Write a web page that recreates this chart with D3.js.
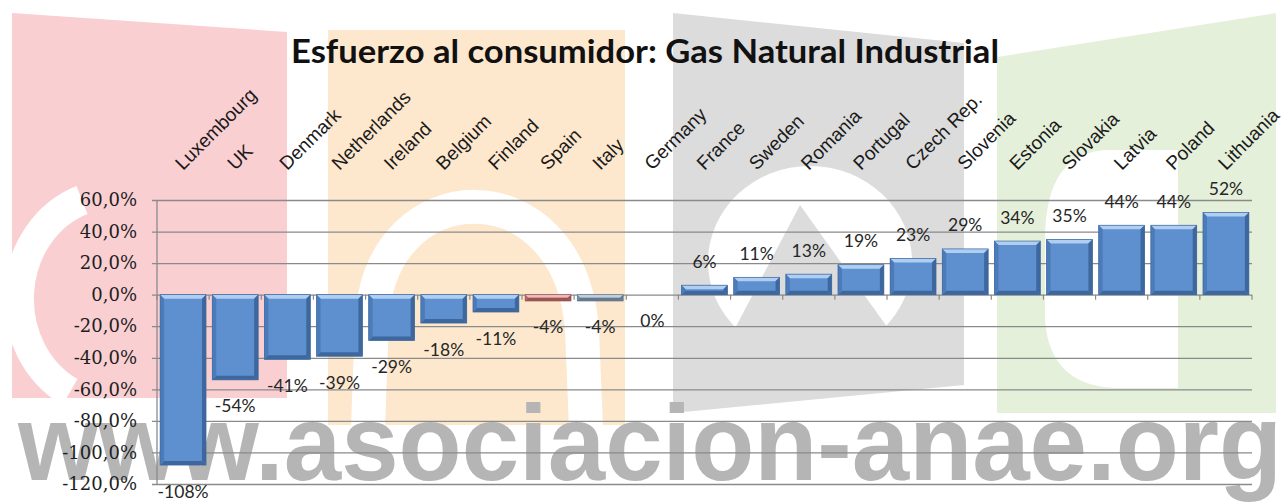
<!DOCTYPE html>
<html>
<head>
<meta charset="utf-8">
<script src="https://cdn.jsdelivr.net/npm/d3@7"></script>
<style>
  body { margin: 0; background: #fff; }
  svg { display: block; }
</style>
</head>
<body>
<div id="chart"></div>
<script>
// Data
var countries = ["Luxembourg", "UK", "Denmark", "Netherlands", "Ireland", "Belgium", "Finland",
                 "Spain", "Italy", "Germany", "France", "Sweden", "Romania", "Portugal",
                 "Czech Rep.", "Slovenia", "Estonia", "Slovakia", "Latvia", "Poland", "Lithuania"];
var values = [-108, -54, -41, -39, -29, -18, -11, -4, -4, 0, 6, 11, 13, 19, 23, 29, 34, 35, 44, 44, 52];
var yTicks = [60, 40, 20, 0, -20, -40, -60, -80, -100, -120];
var title = "Esfuerzo al consumidor: Gas Natural Industrial";
var watermark = "www.asociacion-anae.org";

// Layout
var width = 1288, height = 504;
var plot = { left: 157, right: 1252, top: 200, bottom: 484 };

var svg = d3.select("#chart").append("svg")
    .attr("width", width)
    .attr("height", height);

svg.append("rect").attr("width", width).attr("height", height).attr("fill", "#fff");

// background logo (watermark)
var bg = svg.append("g");
bg.append("path").attr("d", "M12,13 L287,32 L287,398 L12,398 Z").attr("fill", "#f9cfd2");
bg.append("path").attr("d", "M82,200 A95,105 0 0 0 70,392")
    .attr("fill", "none").attr("stroke", "#fff").attr("stroke-width", 30);
bg.append("path").attr("d", "M328,30 L625,30 L625,425 L328,425 Z").attr("fill", "#fde8ce");
bg.append("path").attr("d", "M368,428 L372,320 C380,170 570,165 582,330 L586,428")
    .attr("fill", "none").attr("stroke", "#fff").attr("stroke-width", 34);
bg.append("path").attr("d", "M673,13 L964,43 L964,385 L673,413 Z").attr("fill", "#dcdcdc");
bg.append("ellipse").attr("cx", 810).attr("cy", 262).attr("rx", 102).attr("ry", 96).attr("fill", "#fff");
bg.append("path").attr("d", "M800,205 L712,372 L905,352 Z").attr("fill", "#dcdcdc");
bg.append("path").attr("d", "M997,57 L1276,13 L1276,413 L997,413 Z").attr("fill", "#e5f0da");
bg.append("path").attr("d", "M1178,150 L1110,150 Q1045,150 1045,240 L1045,320 Q1050,388 1120,388 L1178,388 Z")
    .attr("fill", "#fff");

bg.append("text")
    .attr("x", 18).attr("y", 480)
    .attr("textLength", 1264)
    .attr("lengthAdjust", "spacingAndGlyphs")
    .style("font-family", "'Liberation Sans', Arial, sans-serif")
    .style("font-weight", "bold")
    .style("font-size", "108px")
    .attr("fill", "#b5b5b5")
    .text(watermark);

// Scales
var x = d3.scaleBand()
    .domain(countries)
    .range([plot.left, plot.right])
    .paddingInner(0.12)
    .paddingOuter(0.06);

var y = d3.scaleLinear()
    .domain([-120, 60])
    .range([plot.bottom, plot.top]);

var locale = d3.formatLocale({ decimal: ",", thousands: ".", grouping: [3], currency: ["", "€"], minus: "-" });
var fmt = locale.format(".1f");

// gridlines + y tick labels
var yAxis = d3.axisLeft(y)
    .tickValues(yTicks)
    .tickSize(-(plot.right - plot.left + 5))
    .tickPadding(15)
    .tickFormat(function(d) { return fmt(d) + "%"; });

var gy = svg.append("g")
    .attr("transform", "translate(" + (plot.left - 5) + ",0)")
    .call(yAxis);
gy.select(".domain").remove();
gy.selectAll(".tick line").attr("stroke", "#8a8a8a").attr("stroke-width", 1.3);
gy.selectAll(".tick text")
    .style("font-family", "'DejaVu Serif', serif")
    .style("font-size", "18px")
    .attr("fill", "#1e1e1e");

// vertical axis line
svg.append("line")
    .attr("x1", plot.left).attr("x2", plot.left)
    .attr("y1", y(60)).attr("y2", y(-120))
    .attr("stroke", "#8a8a8a").attr("stroke-width", 1.3);

// category tick marks on the zero line
var half = x.step() * x.paddingInner() / 2;
var bounds = countries.map(function(c) { return x(c) - half; });
bounds.push(x(countries[countries.length - 1]) + x.bandwidth() + half);
svg.append("g").selectAll("line")
    .data(bounds)
    .enter().append("line")
    .attr("x1", function(d) { return d; }).attr("x2", function(d) { return d; })
    .attr("y1", y(0)).attr("y2", y(0) + 5)
    .attr("stroke", "#8a8a8a").attr("stroke-width", 1.2);

// bars with bevel
var palette = {
    normal: { body: "#5e8fcf", light: "#b0cef2", dark: "#3d679d", side: "#4c7bba" },
    Spain:  { body: "#cc8583", light: "#ecbcba", dark: "#9a5452", side: "#b06a68" },
    Italy:  { body: "#8fa2b7", light: "#c3cfdc", dark: "#66788c", side: "#7a8da2" }
};

var data = countries.map(function(c, i) { return { name: c, value: values[i] }; });

var bars = svg.append("g").selectAll("g")
    .data(data)
    .enter().append("g");

bars.each(function(d) {
    var g = d3.select(this);
    var col = palette[d.name] || palette.normal;
    var x0 = x(d.name), x1 = x0 + x.bandwidth();
    var y0 = y(Math.max(0, d.value)), y1 = y(Math.min(0, d.value));
    if (y1 - y0 < 0.5) return;
    var b = Math.min(4, (y1 - y0) / 2);
    g.append("rect")
        .attr("x", x0).attr("y", y0)
        .attr("width", x1 - x0).attr("height", y1 - y0)
        .attr("fill", col.body);
    g.append("path").attr("fill", col.light)
        .attr("d", "M" + x0 + "," + y0 + "L" + x1 + "," + y0 + "L" + (x1 - b) + "," + (y0 + b) + "L" + (x0 + b) + "," + (y0 + b) + "Z");
    g.append("path").attr("fill", col.dark)
        .attr("d", "M" + x0 + "," + y1 + "L" + x1 + "," + y1 + "L" + (x1 - b) + "," + (y1 - b) + "L" + (x0 + b) + "," + (y1 - b) + "Z");
    g.append("path").attr("fill", col.side)
        .attr("d", "M" + x0 + "," + y0 + "L" + (x0 + b) + "," + (y0 + b) + "L" + (x0 + b) + "," + (y1 - b) + "L" + x0 + "," + y1 + "Z");
    g.append("path").attr("fill", col.dark)
        .attr("d", "M" + x1 + "," + y0 + "L" + (x1 - b) + "," + (y0 + b) + "L" + (x1 - b) + "," + (y1 - b) + "L" + x1 + "," + y1 + "Z");
    g.append("rect")
        .attr("x", x0).attr("y", y0)
        .attr("width", x1 - x0).attr("height", y1 - y0)
        .attr("fill", "none").attr("stroke", col.dark).attr("stroke-width", 0.7);
});

// value labels
svg.append("g").selectAll("text")
    .data(data)
    .enter().append("text")
    .attr("x", function(d) { return x(d.name) + x.bandwidth() / 2; })
    .attr("y", function(d) { return d.value > 0 ? y(d.value) - 24 : y(d.value) + 26; })
    .attr("text-anchor", "middle")
    .attr("dominant-baseline", "central")
    .style("font-family", "Lato, sans-serif")
    .style("font-size", "17.5px")
    .attr("fill", "#262626")
    .text(function(d) { return d.value + "%"; });

// category labels, rotated
svg.append("g").selectAll("text")
    .data(countries)
    .enter().append("text")
    .attr("transform", function(d) {
        return "translate(" + (x(d) + x.bandwidth() / 2) + ",171) rotate(-45)";
    })
    .style("font-family", "'Liberation Sans', Arial, sans-serif")
    .style("font-size", "19px")
    .attr("fill", "#1a1a1a")
    .text(function(d) { return d; });

// title
svg.append("text")
    .attr("x", 645).attr("y", 63)
    .attr("text-anchor", "middle")
    .attr("textLength", 708)
    .attr("lengthAdjust", "spacingAndGlyphs")
    .style("font-family", "Lato, sans-serif")
    .style("font-weight", "bold")
    .style("font-size", "33px")
    .attr("fill", "#111")
    .text(title);
</script>
</body>
</html>
